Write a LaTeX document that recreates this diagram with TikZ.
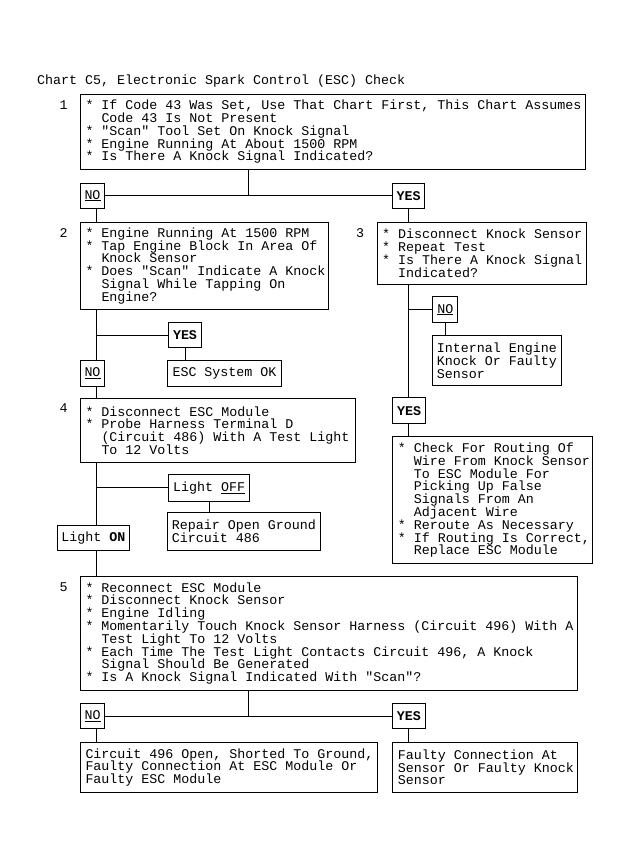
\documentclass[tikz,border=0pt]{standalone}
\usepackage{fontspec}
\newfontfamily\dmono{Liberation Mono}
\newcommand\tf{\dmono\fontsize{13.33pt}{12.8pt}\selectfont\frenchspacing}
\newcommand\ii{\hspace*{16pt}}
\newcommand\Ln[1]{\mbox{\spaceskip=8pt\relax\xspaceskip=8pt\relax #1}}
\begin{document}
\begin{tikzpicture}[x=1pt,y=-1pt,
  every node/.style={font=\tf},
  bx/.style={draw, line width=1pt, inner xsep=5pt, inner ysep=0pt, anchor=north west, align=left},
  sm/.style={draw, line width=1pt, inner sep=0pt, anchor=north west},
  lab/.style={inner sep=0pt, anchor=center},
  ln/.style={line width=1pt}]
\fill[white] (0,0) rectangle (631,868);
\useasboundingbox (0,0) rectangle (631,868);

\node[inner sep=0pt, anchor=west] (title) at (37,81) {Chart C5, Electronic Spark Control (ESC) Check};

% step 1
\node[lab] (l1) at (63.5,105) {1};
\node[bx, text width=495pt, minimum height=75.5pt] (B1) at (80,93.5) {%
\Ln{* If Code 43 Was Set, Use That Chart First, This Chart Assumes}\\
\Ln{\ii Code 43 Is Not Present}\\
\Ln{* "Scan" Tool Set On Knock Signal}\\
\Ln{* Engine Running At About 1500 RPM}\\
\Ln{* Is There A Knock Signal Indicated?}};
\node[sm, minimum width=24pt, minimum height=25.5pt] (NO1) at (80,182.5) {\underline{NO}};
\node[sm, minimum width=32pt, minimum height=25.5pt] (YES1) at (392,182.5) {\textbf{YES}};

% step 2 and 3
\node[lab] (l2) at (63.5,232.7) {2};
\node[bx, text width=238pt, minimum height=87.5pt] (B2) at (80,221.5) {%
\Ln{* Engine Running At 1500 RPM}\\
\Ln{* Tap Engine Block In Area Of}\\
\Ln{\ii Knock Sensor}\\
\Ln{* Does "Scan" Indicate A Knock}\\
\Ln{\ii Signal While Tapping On}\\
\Ln{\ii Engine?}};
\node[lab] (l3) at (360,232.7) {3};
\node[bx, text width=199pt, minimum height=62.5pt] (B3) at (376.7,221.5) {%
\Ln{* Disconnect Knock Sensor}\\
\Ln{* Repeat Test}\\
\Ln{* Is There A Knock Signal}\\
\Ln{\ii Indicated?}};

\node[sm, minimum width=32.4pt, minimum height=24.4pt] (YES2) at (168.3,322.3) {\textbf{YES}};
\node[sm, minimum width=113.4pt, minimum height=25.7pt] (ESC) at (167.3,360) {ESC System OK};
\node[sm, minimum width=24pt, minimum height=25.7pt] (NO2) at (80,360) {\underline{NO}};

\node[sm, minimum width=25pt, minimum height=26.3pt] (NO3) at (432.3,296) {\underline{NO}};
\node[bx, inner xsep=4pt, text width=120.7pt, minimum height=50pt] (INT) at (432.3,335) {%
\Ln{Internal Engine}\\
\Ln{Knock Or Faulty}\\
\Ln{Sensor}};
\node[sm, minimum width=32.7pt, minimum height=26pt] (YES3) at (392.3,397.3) {\textbf{YES}};
\node[bx, text width=190pt, minimum height=127.3pt] (ROUT) at (392.3,436) {%
\Ln{* Check For Routing Of}\\
\Ln{\ii Wire From Knock Sensor}\\
\Ln{\ii To ESC Module For}\\
\Ln{\ii Picking Up False}\\
\Ln{\ii Signals From An}\\
\Ln{\ii Adjacent Wire}\\
\Ln{* Reroute As Necessary}\\
\Ln{* If Routing Is Correct,}\\
\Ln{\ii Replace ESC Module}};

% step 4
\node[lab] (l4) at (63.5,408.5) {4};
\node[bx, text width=265pt, minimum height=64.6pt] (B4) at (80,397.7) {%
\Ln{* Disconnect ESC Module}\\
\Ln{* Probe Harness Terminal D}\\
\Ln{\ii (Circuit 486) With A Test Light}\\
\Ln{\ii To 12 Volts}};
\node[sm, minimum width=80.7pt, minimum height=26.7pt] (OFF) at (168.3,474) {Light \underline{OFF}};
\node[bx, inner xsep=4pt, text width=144.7pt, minimum height=38.3pt] (REP) at (167.3,511.7) {%
\Ln{Repair Open Ground}\\
\Ln{Circuit 486}};
\node[sm, minimum width=72.3pt, minimum height=25pt] (ON) at (56.7,525) {Light \textbf{ON}};

% step 5
\node[lab] (l5) at (63.5,587) {5};
\node[bx, text width=487pt, minimum height=114pt] (B5) at (80,576) {%
\Ln{* Reconnect ESC Module}\\
\Ln{* Disconnect Knock Sensor}\\
\Ln{* Engine Idling}\\
\Ln{* Momentarily Touch Knock Sensor Harness (Circuit 496) With A}\\
\Ln{\ii Test Light To 12 Volts}\\
\Ln{* Each Time The Test Light Contacts Circuit 496, A Knock}\\
\Ln{\ii Signal Should Be Generated}\\
\Ln{* Is A Knock Signal Indicated With "Scan"?}};
\node[sm, minimum width=24.3pt, minimum height=25pt] (NO5) at (80,703.3) {\underline{NO}};
\node[sm, minimum width=33.3pt, minimum height=25pt] (YES5) at (391.7,703.3) {\textbf{YES}};
\node[bx, text width=286.7pt, minimum height=50.8pt] (CIR) at (80,741.5) {%
\Ln{Circuit 496 Open, Shorted To Ground,}\\
\Ln{Faulty Connection At ESC Module Or}\\
\Ln{Faulty ESC Module}};
\node[bx, text width=175pt, minimum height=50.8pt] (FLT) at (392.3,741.5) {%
\Ln{Faulty Connection At}\\
\Ln{Sensor Or Faulty Knock}\\
\Ln{Sensor}};

% trunk coordinates
\coordinate (Lx) at (96.5,0);
\coordinate (Rx) at (408.3,0);
\coordinate (j1) at (248,195.25);
\coordinate (j5) at (248,715.8);

% connectors
\draw[ln] (j1 |- B1.south) -- (j1);
\draw[ln] (NO1.east) -- (YES1.west);
\draw[ln] (NO1.south -| Lx) -- (B2.north -| Lx);
\draw[ln] (YES1.south -| Rx) -- (B3.north -| Rx);

\draw[ln] (B2.south -| Lx) -- (NO2.north -| Lx);
\draw[ln] (YES2.west -| Lx) -- (YES2.west);
\draw[ln] (YES2.south) -- (YES2.south |- ESC.north);
\draw[ln] (NO2.south -| Lx) -- (B4.north -| Lx);

\draw[ln] (B3.south -| Rx) -- (YES3.north -| Rx);
\draw[ln] (NO3.west -| Rx) -- (NO3.west);
\draw[ln] (NO3.south) -- (NO3.south |- INT.north);
\draw[ln] (YES3.south -| Rx) -- (ROUT.north -| Rx);

\draw[ln] (B4.south -| Lx) -- (ON.north -| Lx);
\draw[ln] (OFF.west -| Lx) -- (OFF.west);
\draw[ln] (OFF.south) -- (OFF.south |- REP.north);
\draw[ln] (ON.south -| Lx) -- (B5.north -| Lx);

\draw[ln] (j5 |- B5.south) -- (j5);
\draw[ln] (NO5.east) -- (YES5.west);
\draw[ln] (NO5.south -| Lx) -- (CIR.north -| Lx);
\draw[ln] (YES5.south -| Rx) -- (FLT.north -| Rx);
\end{tikzpicture}
\end{document}
